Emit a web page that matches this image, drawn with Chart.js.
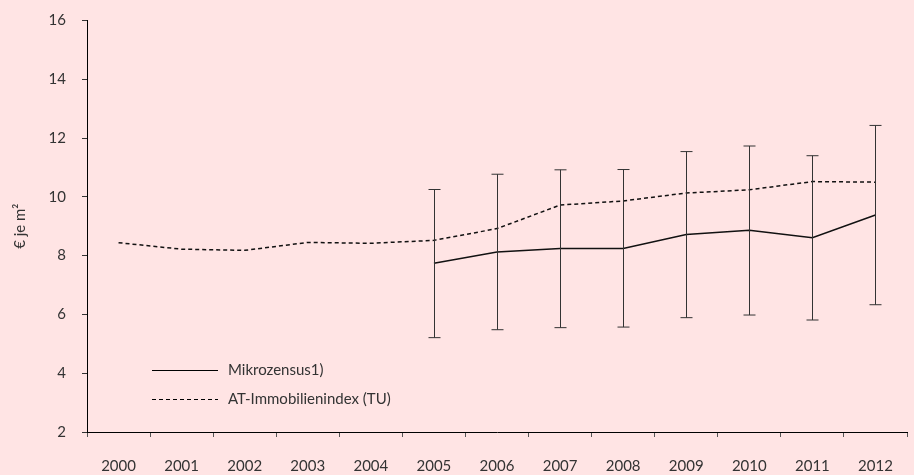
<!DOCTYPE html>
<html>
<head>
<meta charset="utf-8">
<script src="https://cdn.jsdelivr.net/npm/chart.js@4/dist/chart.umd.min.js"></script>
<style>
  html, body { margin: 0; padding: 0; background: #ffe4e4; }
  #wrap { width: 914px; height: 475px; }
</style>
</head>
<body>
<div id="wrap"><canvas id="chart"></canvas></div>
<script>
const years = ['2000', '2001', '2002', '2003', '2004', '2005', '2006', '2007', '2008', '2009', '2010', '2011', '2012'];
const mikrozensus = [null, null, null, null, null, 7.74, 8.12, 8.24, 8.24, 8.72, 8.86, 8.61, 9.38];
const mikroUpper = [null, null, null, null, null, 10.25, 10.77, 10.92, 10.93, 11.54, 11.73, 11.4, 12.43];
const mikroLower = [null, null, null, null, null, 5.21, 5.48, 5.55, 5.57, 5.89, 5.98, 5.81, 6.33];
const atIndex = [8.44, 8.22, 8.18, 8.45, 8.42, 8.52, 8.92, 9.72, 9.86, 10.13, 10.24, 10.52, 10.5];

const fontFamily = "Lato, 'Open Sans', sans-serif";
const textColor = '#333';

// Fehlerbalken für Mikrozensus
const errorBars = {
    id: 'errorBars',
    afterDatasetsDraw(chart) {
        const ctx = chart.ctx;
        const x = chart.scales.x;
        const y = chart.scales.y;
        ctx.save();
        ctx.strokeStyle = '#333';
        ctx.lineWidth = 1;
        for (let i = 0; i < years.length; i++) {
            if (mikroUpper[i] === null) continue;
            const px = Math.round(x.getPixelForValue(i)) + 0.5;
            const top = y.getPixelForValue(mikroUpper[i]);
            const bot = y.getPixelForValue(mikroLower[i]);
            ctx.beginPath();
            ctx.moveTo(px, top);
            ctx.lineTo(px, bot);
            ctx.moveTo(px - 6, top);
            ctx.lineTo(px + 6, top);
            ctx.moveTo(px - 6, bot);
            ctx.lineTo(px + 6, bot);
            ctx.stroke();
        }
        ctx.restore();
    }
};

// Legende innerhalb der Grafik
const innerLegend = {
    id: 'innerLegend',
    afterDraw(chart) {
        const ctx = chart.ctx;
        const area = chart.chartArea;
        ctx.save();
        ctx.font = '15px ' + fontFamily;
        ctx.fillStyle = textColor;
        ctx.textBaseline = 'middle';
        chart.data.datasets.forEach((ds, i) => {
            const yy = Math.round(chart.scales.y.getPixelForValue(4.1)) + i * 29 + 0.5;
            const x0 = area.left + 65;
            ctx.strokeStyle = '#000';
            ctx.lineWidth = 1;
            ctx.setLineDash(ds.borderDash || []);
            ctx.beginPath();
            ctx.moveTo(x0, yy);
            ctx.lineTo(x0 + 66, yy);
            ctx.stroke();
            ctx.setLineDash([]);
            ctx.fillText(ds.label, x0 + 76, yy);
        });
        ctx.restore();
    }
};

new Chart(document.getElementById('chart'), {
    type: 'line',
    data: {
        labels: years,
        datasets: [
            {
                label: 'Mikrozensus1)',
                data: mikrozensus,
                borderColor: '#111',
                borderWidth: 1.5,
                pointRadius: 0,
                fill: false,
                tension: 0
            },
            {
                label: 'AT-Immobilienindex (TU)',
                data: atIndex,
                borderColor: '#111',
                borderWidth: 1.5,
                borderDash: [4, 3],
                pointRadius: 0,
                fill: false,
                tension: 0
            }
        ]
    },
    options: {
        responsive: true,
        maintainAspectRatio: false,
        animation: false,
        layout: { padding: { top: 6, right: 7, left: 11, bottom: 0 } },
        plugins: {
            legend: { display: false },
            tooltip: { enabled: false }
        },
        scales: {
            x: {
                offset: true,
                grid: { offset: true, drawOnChartArea: false, tickLength: 5, color: '#555' },
                border: { color: '#000', width: 1 },
                ticks: { color: textColor, font: { family: fontFamily, size: 15 }, padding: 20, maxRotation: 0 },
                afterFit(scale) { scale.height = 43; }
            },
            y: {
                min: 2,
                max: 16,
                ticks: { stepSize: 2, color: textColor, font: { family: fontFamily, size: 15, lineHeight: 0.6 }, padding: 16 },
                grid: { drawOnChartArea: false, tickLength: 5, color: '#333' },
                border: { color: '#000', width: 1 },
                title: { display: true, text: '€ je m²', color: textColor, font: { family: fontFamily, size: 15 }, padding: 0 },
                afterFit(scale) { scale.width = 76; }
            }
        }
    },
    plugins: [errorBars, innerLegend]
});
</script>
</body>
</html>
